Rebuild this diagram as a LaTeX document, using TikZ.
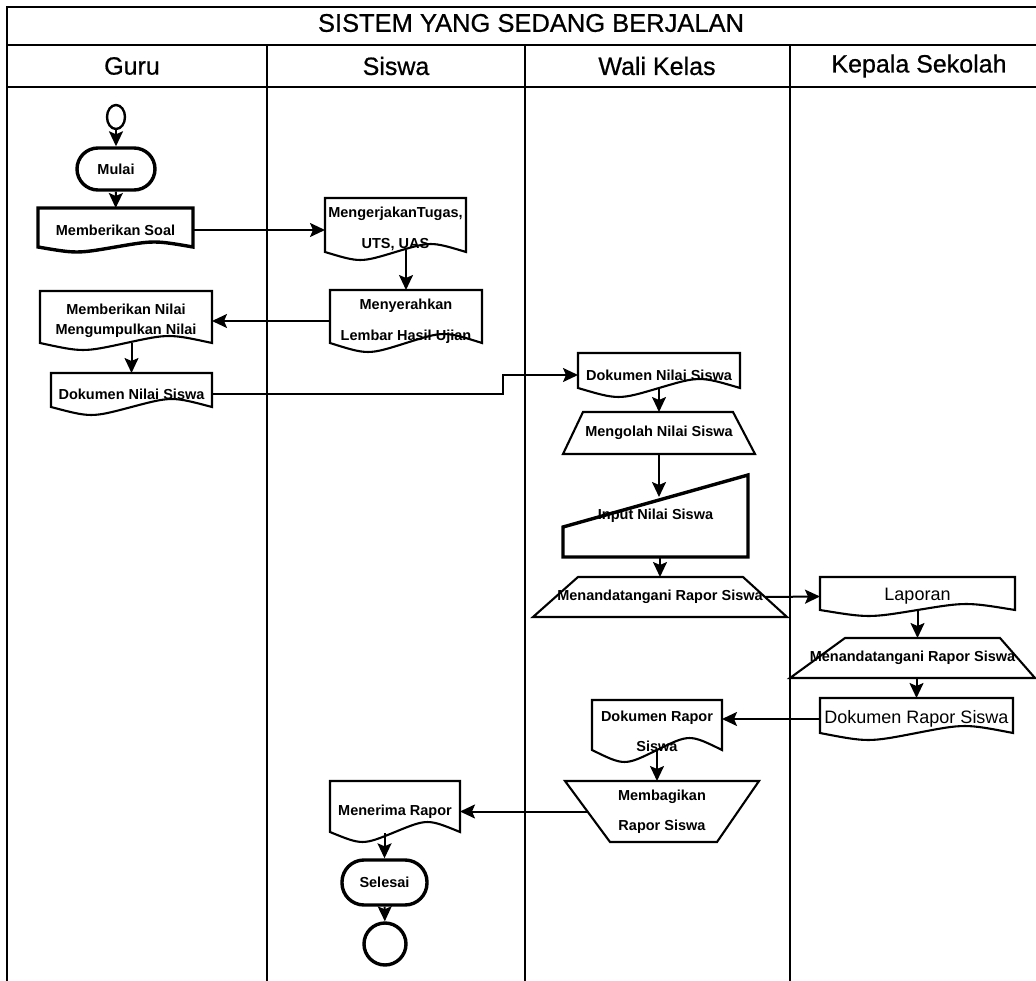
\documentclass[tikz,border=0pt]{standalone}
\usepackage{fontspec}
\setmainfont{Liberation Sans}
\newfontfamily\hdrfont{Liberation Sans}[FakeBold=0.7]
\usetikzlibrary{arrows.meta,calc,shapes.geometric}

\newcommand\docshape[3][]{%
 \draw[#1] (#2.north west) -- (#2.north east) -- ($(#2.south east)+(0,-#3)$)
 .. controls ($(#2.south)!0.5!(#2.south east)+(0,{-2.33*#3})$) .. ($(#2.south)+(0,-#3)$)
 .. controls ($(#2.south west)!0.5!(#2.south)+(0,{0.33*#3})$) .. ($(#2.south west)+(0,-#3)$) -- cycle;}
\newcommand\trapshape[6][]{%
 \draw[#1] ($(#2.north west)+(#3,0)$) -- ($(#2.north east)+(-#4,0)$) -- ($(#2.south east)+(-#6,0)$) -- ($(#2.south west)+(#5,0)$) -- cycle;}
\newcommand\minputshape[3][]{%
 \draw[#1] (#2.south west) -- (#2.south east) -- (#2.north east) -- ($(#2.south west)+(0,-#3)$) -- cycle;}

\begin{document}
\begin{tikzpicture}[x=1pt,y=-1pt,
  lane/.style={line width=2.4pt},
  shp/.style={line width=2.1pt},
  thk/.style={line width=3.4pt},
  conn/.style={line width=2pt,-{Stealth[length=15pt,width=14pt,inset=3pt]}},
  box/.style={inner sep=0pt,outer sep=0pt,align=center,font=\fontsize{14.5}{16}\selectfont\bfseries},
  rbox/.style={inner sep=0pt,outer sep=0pt,align=center,font=\fontsize{18}{20}\selectfont},
  hdr/.style={font=\hdrfont\fontsize{25}{28}\selectfont,inner sep=0pt},
  term/.style={draw,thk,rounded corners=21pt,inner sep=0pt,font=\fontsize{14.5}{16}\selectfont\bfseries}
]
\useasboundingbox (0,0) rectangle (1036,981);
\fill[white] (0,0) rectangle (1036,981);

% frame and lanes
\draw[lane] (1040,7) -- (7,7) -- (7,985);
\draw[lane] (7,45) -- (1040,45);
\draw[lane] (7,87) -- (1040,87);
\draw[lane] (267,45) -- (267,985);
\draw[lane] (525,45) -- (525,985);
\draw[lane] (790,45) -- (790,985);

\node[font=\hdrfont\fontsize{25.5}{28}\selectfont,inner sep=0pt] (title) at (531,23) {SISTEM YANG SEDANG BERJALAN};
\node[hdr] (hguru) at (132,66) {Guru};
\node[hdr] (hsiswa) at (396,66) {Siswa};
\node[hdr] (hwali) at (657,66) {Wali Kelas};
\node[hdr] (hkepala) at (919,66) {Kepala Sekolah};

% Guru
\node[draw,ellipse,line width=2.4pt,minimum width=18pt,minimum height=24pt,inner sep=0pt] (start) at (116,117) {};
\node[term,minimum width=78pt,minimum height=42pt] (mulai) at (116,169) {Mulai};
\node[box,minimum width=155pt,minimum height=44pt] (soal) at (115.5,230) {Memberikan Soal};
\docshape[thk]{soal}{5}
\node[box,minimum width=172pt,minimum height=59pt] (nilai) at (126,320.5) {Memberikan Nilai\\[4pt]Mengumpulkan Nilai};
\docshape[shp]{nilai}{7}
\node[box,minimum width=161pt,minimum height=42pt] (dok1) at (131.5,394) {Dokumen Nilai Siswa};
\docshape[shp]{dok1}{8}

% Siswa
\node[box,minimum width=141pt,minimum height=62pt] (kerja) at (395.5,229) {MengerjakanTugas,\\[15pt]UTS, UAS};
\docshape[shp]{kerja}{8}
\node[box,minimum width=152pt,minimum height=62pt] (serah) at (406,321) {Menyerahkan\\[15pt]Lembar Hasil Ujian};
\docshape[shp]{serah}{9}
\node[box,minimum width=130pt,minimum height=61pt] (terima) at (395,811.5) {Menerima Rapor};
\docshape[shp]{terima}{10}
\node[term,minimum width=85pt,minimum height=45pt,rounded corners=22pt] (selesai) at (384.5,882.5) {Selesai};
\node[draw,circle,thk,minimum size=42pt,inner sep=0pt] (end) at (385,944) {};

% Wali Kelas
\node[box,minimum width=162pt,minimum height=44pt] (dok2) at (659,375) {Dokumen Nilai Siswa};
\docshape[shp]{dok2}{9}
\node[box,minimum width=192pt,minimum height=42pt] (olah) at (659,433) {\raisebox{-4pt}{Mengolah Nilai Siswa}};
\trapshape[shp]{olah}{20}{22}{0}{0}
\node[box,minimum width=185pt,minimum height=82pt] (input) at (655.5,516) {Input Nilai Siswa};
\minputshape[thk]{input}{30}
\node[box,minimum width=254pt,minimum height=40pt] (ttd1) at (660,597) {Menandatangani Rapor Siswa};
\trapshape[shp]{ttd1}{45}{44}{0}{0}
\node[box,minimum width=130pt,minimum height=62pt] (dokr1) at (657,731) {Dokumen Rapor\\[14pt]Siswa};
\docshape[shp]{dokr1}{12}
\node[box,minimum width=194pt,minimum height=61pt] (bagi) at (662,811.5) {Membagikan\\[14pt]Rapor Siswa};
\trapshape[shp]{bagi}{0}{0}{45}{42}

% Kepala Sekolah
\node[rbox,minimum width=195pt,minimum height=39pt] (lapor) at (917.5,596.5) {\raisebox{4pt}{Laporan}};
\docshape[shp]{lapor}{6}
\node[box,minimum width=245pt,minimum height=40pt] (ttd2) at (912.5,658) {Menandatangani Rapor Siswa};
\trapshape[shp]{ttd2}{55}{35}{0}{0}
\node[rbox,minimum width=193pt,minimum height=42pt] (dokr2) at (916.5,719) {\raisebox{3pt}{Dokumen Rapor Siswa}};
\docshape[shp]{dokr2}{7}

% connectors
\draw[conn] (start) -- (mulai);
\draw[conn] (mulai) -- (soal);
\draw[conn] (soal.east) -- (soal.east -| kerja.west);
\draw[conn] ($(kerja.south -| serah.north)+(0,-10)$) -- (serah.north);
\draw[conn] (serah.west) -- (serah.west -| nilai.east);
\draw[conn] ($(nilai.south -| dok1.north)+(0,-7)$) -- (dok1.north);
\draw[conn] (dok1.east) -- ++(291,0) |- (dok2.west);
\draw[conn] ($(dok2.south)+(0,-9)$) -- (olah.north);
\draw[conn] (olah.south) -- ($(olah.south |- input.north)+(0,22)$);
\draw[conn] (input.south -| ttd1.north) -- (ttd1.north);
\draw[conn] ($(ttd1.east)+(-22,0)$) -- (lapor.west);
\draw[conn] ($(lapor.south)+(0,-6)$) -- (lapor.south |- ttd2.north);
\draw[conn] (ttd2.south -| dokr2.north) -- (dokr2.north);
\draw[conn] (dokr2.west) -- (dokr2.west -| dokr1.east);
\draw[conn] ($(dokr1.south)+(0,-12)$) -- (dokr1.south |- bagi.north);
\draw[conn] ($(bagi.west)+(22,0)$) -- (bagi.west -| terima.east);
\draw[conn] ($(terima.south -| selesai.north)+(0,-9)$) -- (selesai.north);
\draw[conn] (selesai) -- (end);
\end{tikzpicture}
\end{document}
